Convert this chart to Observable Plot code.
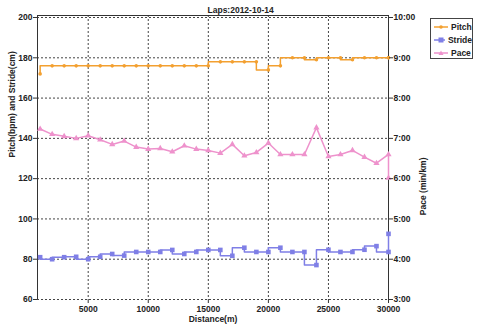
<!DOCTYPE html>
<html><head><meta charset="utf-8">
<script src="https://cdn.jsdelivr.net/npm/d3@7"></script>
<script src="https://cdn.jsdelivr.net/npm/@observablehq/plot@0.6"></script>
<style>
html,body{margin:0;padding:0;background:#fff;}
#wrap{position:relative;width:480px;height:329px;font-family:"Liberation Sans",Arial,sans-serif;}
#legend{position:absolute;left:430px;top:18px;width:43px;height:41px;border:1px solid #444;background:#fff;box-sizing:border-box;font-size:8.5px;font-weight:bold;color:#222;padding-top:1px;}
.item{display:flex;align-items:center;height:13px;padding-left:3px;}
.item svg{margin-right:3px;}
</style>
</head><body><div id="wrap"></div>
<script>
const title = "Laps:2012-10-14";
const seriesNames = ["Pitch", "Stride", "Pace"];
const seriesColors = ["#f3a030", "#7f7fe6", "#ee92cc"];
// lap end distance (m)
const distance = [1000, 2000, 3000, 4000, 5000, 6000, 7000, 8000, 9000, 10000,
  11000, 12000, 13000, 14000, 15000, 16000, 17000, 18000, 19000, 20000,
  21000, 22000, 23000, 24000, 25000, 26000, 27000, 28000, 29000, 30000, 30000];
// pitch (bpm)
const pitch = [172, 176, 176, 176, 176, 176, 176, 176, 176, 176,
  176, 176, 176, 176, 176, 178, 178, 178, 178, 174,
  176, 180, 180, 179, 180, 180, 179, 180, 180, 180, 180];
// stride (cm)
const stride = [81.0, 80.0, 81.0, 81.2, 80.0, 81.2, 82.6, 81.8, 83.6, 83.6,
  83.6, 84.6, 82.6, 83.6, 84.6, 84.6, 81.7, 85.7, 83.6, 83.6,
  85.7, 83.6, 83.6, 77.1, 84.7, 83.6, 83.6, 84.7, 86.5, 83.6, 92.6];
// pace (seconds per km)
const paceSec = [434, 426, 423, 420, 424, 418, 411, 416, 407, 404,
  405, 400, 409, 404, 402, 398, 411, 394, 399, 413,
  396, 396, 396, 436, 393, 396, 402, 392, 383, 396, 361];
const xTicks = [5000, 10000, 15000, 20000, 25000, 30000];
const xGrid = [5000, 10000, 15000, 20000, 25000];
const yTicks = [60, 80, 100, 120, 140, 160, 180, 200];
const paceTickLabels = ["3:00", "4:00", "5:00", "6:00", "7:00", "8:00", "9:00", "10:00"];
const xDomain = [780, 30000];
const yDomain = [60, 201];

// map pace (min/km) onto left scale: 3:00 -> 60, 10:00 -> 200
const paceToLeft = s => 60 + (s / 60 - 3) * 20;

const rows = distance.map((d, i) => ({d, pitch: pitch[i], stride: stride[i], pace: paceToLeft(paceSec[i])}));

const gridStyle = {stroke: "#444", strokeOpacity: 1, strokeDasharray: "2,2", strokeWidth: 1};

const chart = Plot.plot({
  width: 480, height: 329,
  marginLeft: 37, marginRight: 92, marginTop: 15, marginBottom: 30,
  style: {fontFamily: "'Liberation Sans', Arial, sans-serif", fontSize: "8.5px", fontWeight: "bold", color: "#222", background: "#fff", overflow: "visible"},
  x: {domain: xDomain},
  y: {domain: yDomain},
  marks: [
    Plot.gridX(xGrid, gridStyle),
    Plot.gridY(yTicks, gridStyle),
    Plot.ruleX(xDomain, {stroke: "#333"}),
    Plot.ruleY([yDomain[1]], {stroke: "#333"}),
    Plot.line(rows, {x: "d", y: "pace", stroke: seriesColors[2], strokeWidth: 1.5}),
    Plot.dot(rows, {x: "d", y: "pace", symbol: "triangle", r: 2.3, fill: seriesColors[2]}),
    Plot.line(rows, {x: "d", y: "stride", curve: "step-before", stroke: seriesColors[1], strokeWidth: 1.5}),
    Plot.dot(rows, {x: "d", y: "stride", symbol: "square", r: 2.6, fill: seriesColors[1]}),
    Plot.line(rows, {x: "d", y: "pitch", curve: "step-before", stroke: seriesColors[0], strokeWidth: 1.5}),
    Plot.dot(rows, {x: "d", y: "pitch", r: 1.8, fill: seriesColors[0]}),
    Plot.axisX(xTicks, {tickSize: 4, tickPadding: 2, label: null, tickFormat: d => String(d), stroke: "#333", fill: "#222"}),
    Plot.axisY(yTicks, {anchor: "left", tickSize: 4, tickPadding: 1, label: null, stroke: "#333", fill: "#222"}),
    Plot.axisY(yTicks, {anchor: "right", tickSize: 4, tickPadding: 1, label: null, tickFormat: d => paceTickLabels[yTicks.indexOf(d)], stroke: "#333", fill: "#222"}),
    Plot.text([title], {frameAnchor: "top", dx: 27.6, dy: -8.5, fontSize: 8.5, fontWeight: "bold", fill: "#222"}),
    Plot.text(["Distance(m)"], {frameAnchor: "bottom", dy: 22, fontSize: 8.5, fontWeight: "bold", fill: "#222"}),
    Plot.text(["Pitch(bpm) and Stride(cm)"], {frameAnchor: "left", rotate: -90, dx: -25, fontSize: 8.5, fontWeight: "bold", fill: "#222"}),
    Plot.text(["Pace (min/km)"], {frameAnchor: "right", rotate: -90, dx: 35, fontSize: 8.5, fontWeight: "bold", fill: "#222"})
  ]
});

const wrap = document.getElementById("wrap");
wrap.appendChild(chart);

// legend
const legend = document.createElement("div");
legend.id = "legend";
const symbols = ["circle", "square", "triangle"];
seriesNames.forEach((name, i) => {
  const item = document.createElement("div");
  item.className = "item";
  const c = seriesColors[i];
  let marker;
  if (symbols[i] === "circle") marker = `<circle cx="7" cy="4" r="1.8" fill="${c}"/>`;
  else if (symbols[i] === "square") marker = `<rect x="4.5" y="1.5" width="5" height="5" fill="${c}"/>`;
  else marker = `<path d="M7,1.5 L9.5,6 L4.5,6 Z" fill="${c}"/>`;
  item.innerHTML = `<svg width="14" height="8"><line x1="0" x2="14" y1="4" y2="4" stroke="${c}" stroke-width="1.5"/>${marker}</svg><span>${name}</span>`;
  legend.appendChild(item);
});
wrap.appendChild(legend);
</script>
</body></html>
